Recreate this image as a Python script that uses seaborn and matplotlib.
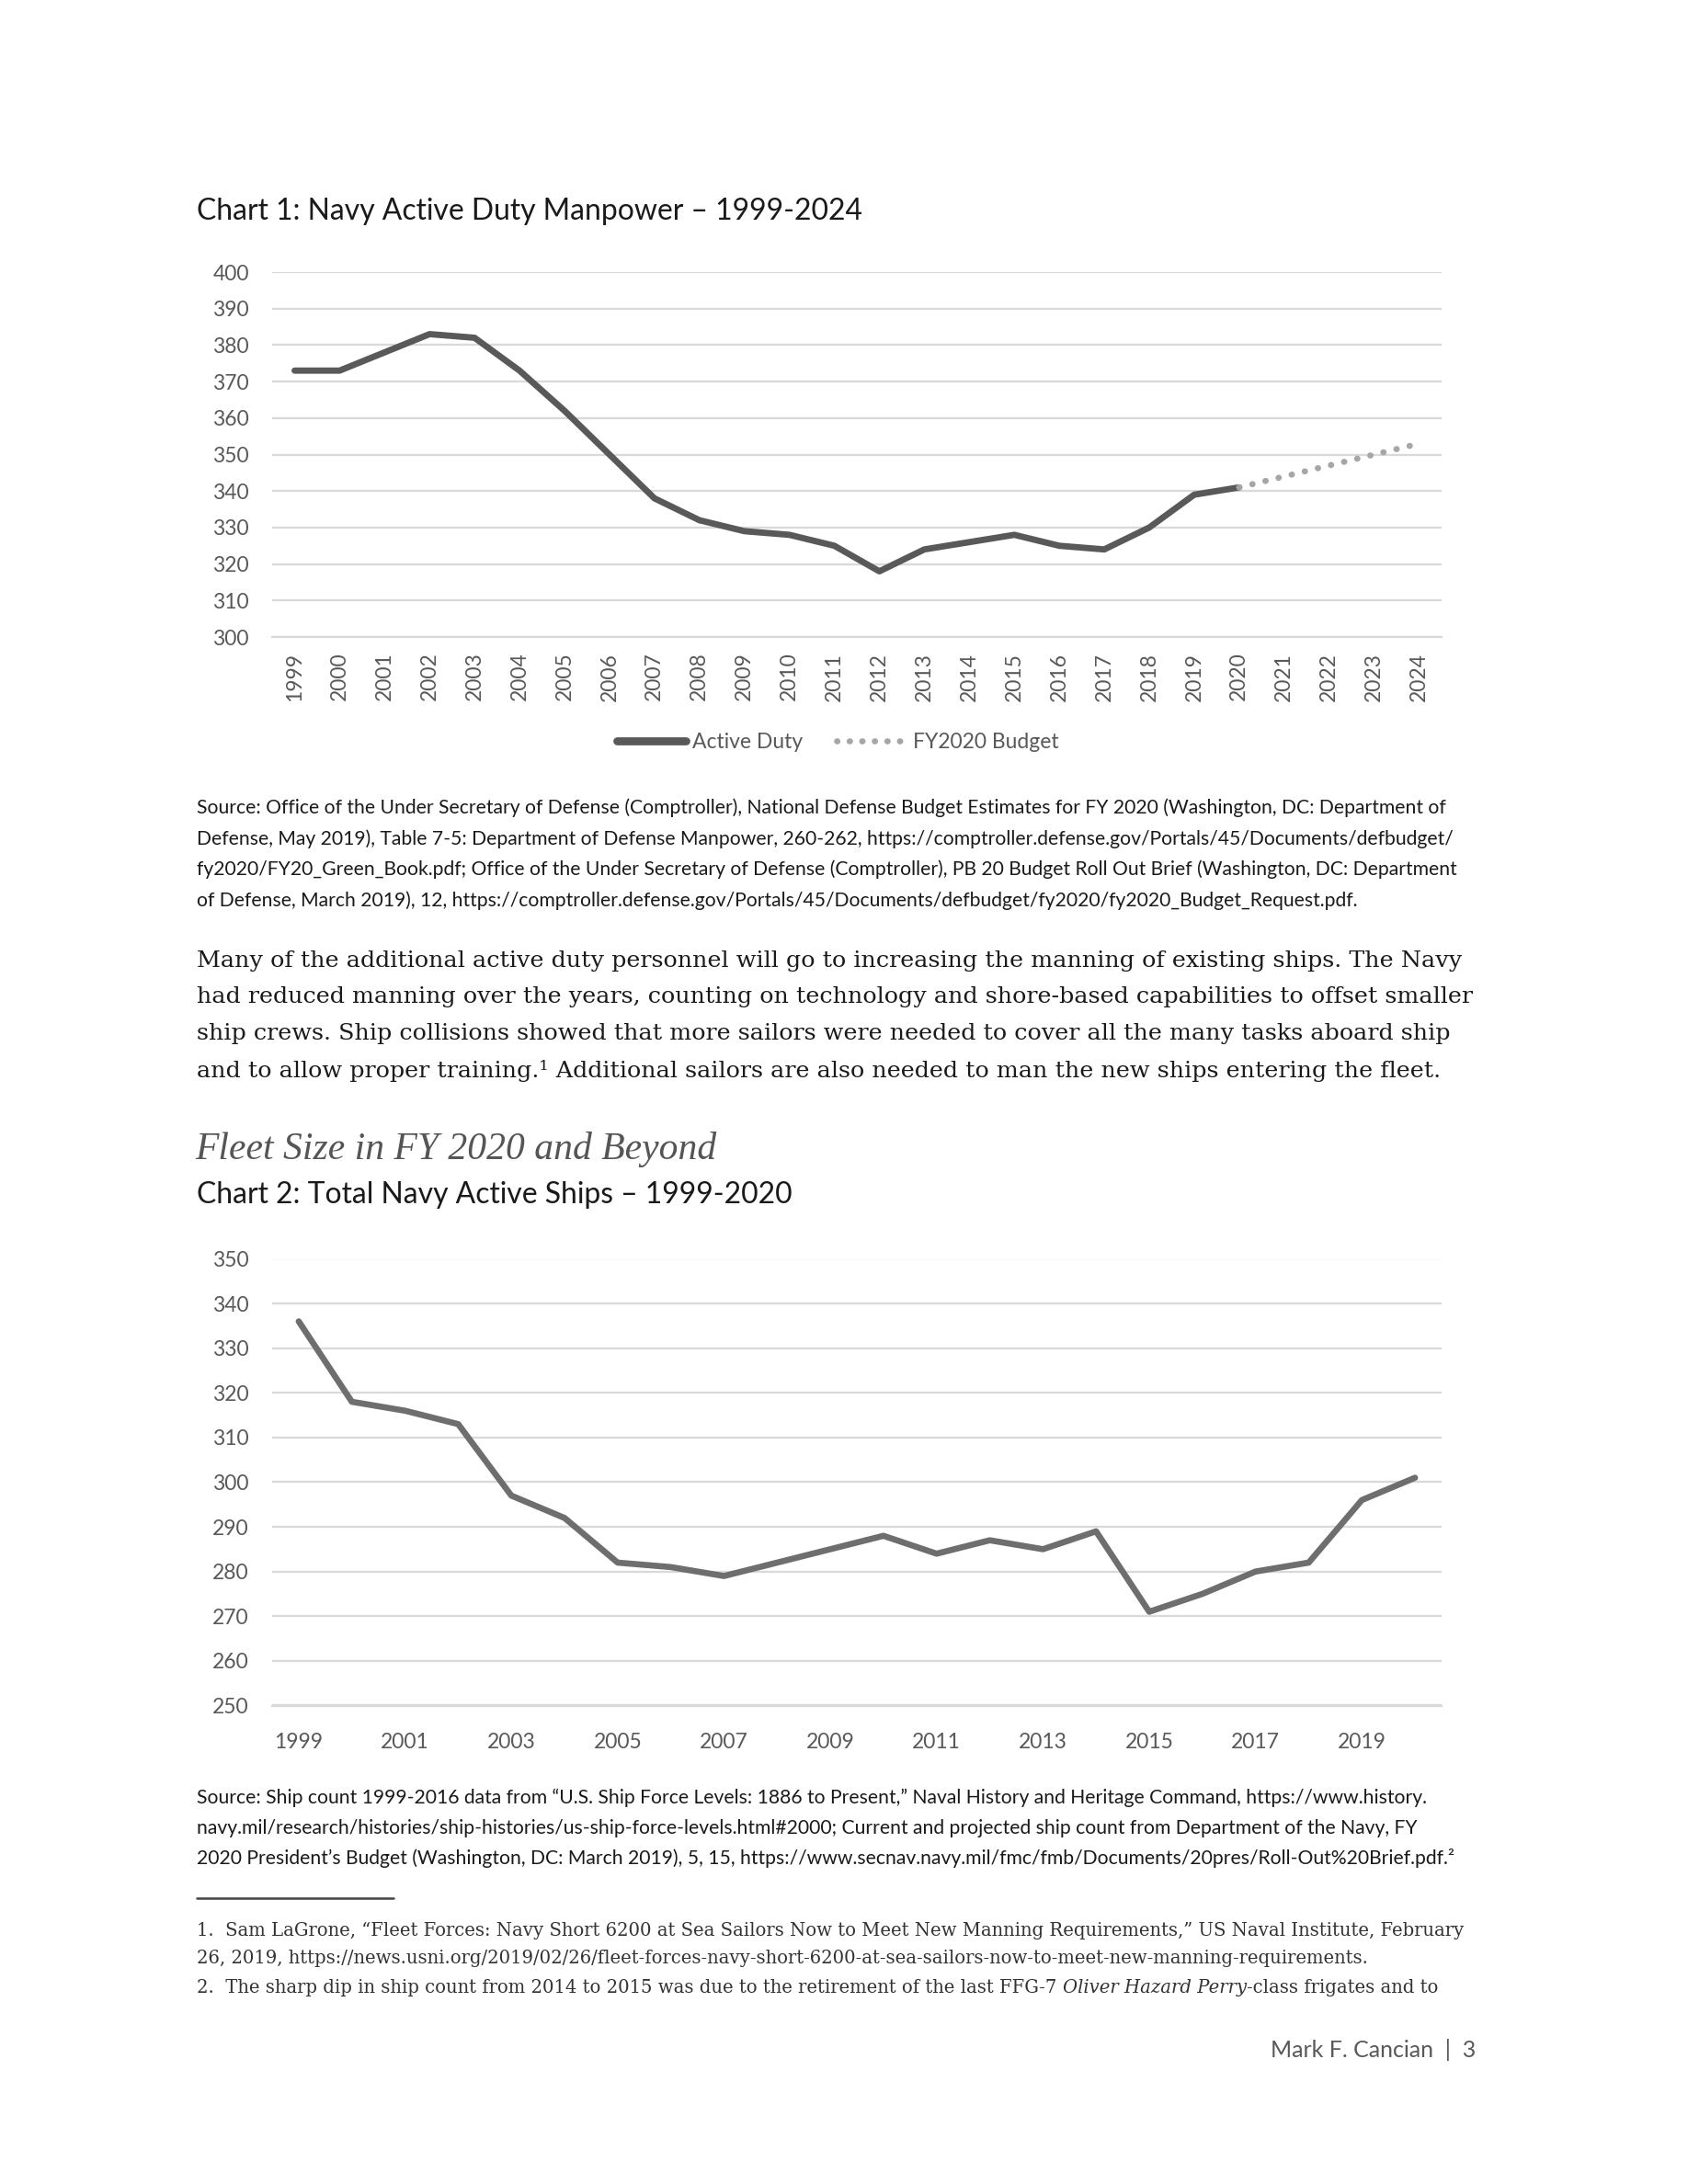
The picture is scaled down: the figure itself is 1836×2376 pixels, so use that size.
import matplotlib
matplotlib.use("Agg")
import matplotlib.pyplot as plt
from matplotlib.lines import Line2D
import seaborn as sns
import pandas as pd

# ---- data ----
years_1 = list(range(1999, 2021))
active_duty = [373, 373, 378, 383, 382, 373, 362, 350, 338, 332, 329,
               328, 325, 318, 324, 326, 328, 325, 324, 330, 339, 341]
budget_years = [2020, 2021, 2022, 2023, 2024]
budget = [341, 344, 347, 350, 353]
axis_years_1 = list(range(1999, 2025))
yticks_1 = list(range(300, 401, 10))

years_2 = list(range(1999, 2021))
ships = [336, 318, 316, 313, 297, 292, 282, 281, 279, 282, 285,
         288, 284, 287, 285, 289, 271, 275, 280, 282, 296, 301]
label_years_2 = list(range(1999, 2020, 2))
yticks_2 = list(range(250, 351, 10))

source_1 = [
    "Source: Office of the Under Secretary of Defense (Comptroller), National Defense Budget Estimates for FY 2020 (Washington, DC: Department of",
    "Defense, May 2019), Table 7-5: Department of Defense Manpower, 260-262, https://comptroller.defense.gov/Portals/45/Documents/defbudget/",
    "fy2020/FY20_Green_Book.pdf; Office of the Under Secretary of Defense (Comptroller), PB 20 Budget Roll Out Brief (Washington, DC: Department",
    "of Defense, March 2019), 12, https://comptroller.defense.gov/Portals/45/Documents/defbudget/fy2020/fy2020_Budget_Request.pdf.",
]
body = [
    "Many of the additional active duty personnel will go to increasing the manning of existing ships. The Navy",
    "had reduced manning over the years, counting on technology and shore-based capabilities to offset smaller",
    "ship crews. Ship collisions showed that more sailors were needed to cover all the many tasks aboard ship",
    "and to allow proper training.\u00b9 Additional sailors are also needed to man the new ships entering the fleet.",
]
source_2 = [
    "Source: Ship count 1999-2016 data from \u201cU.S. Ship Force Levels: 1886 to Present,\u201d Naval History and Heritage Command, https://www.history.",
    "navy.mil/research/histories/ship-histories/us-ship-force-levels.html#2000; Current and projected ship count from Department of the Navy, FY",
    "2020 President\u2019s Budget (Washington, DC: March 2019), 5, 15, https://www.secnav.navy.mil/fmc/fmb/Documents/20pres/Roll-Out%20Brief.pdf.\u00b2",
]
footnotes = [
    "1.  Sam LaGrone, \u201cFleet Forces: Navy Short 6200 at Sea Sailors Now to Meet New Manning Requirements,\u201d US Naval Institute, February",
    "26, 2019, https://news.usni.org/2019/02/26/fleet-forces-navy-short-6200-at-sea-sailors-now-to-meet-new-manning-requirements.",
]
footnote_3 = ["2.  The sharp dip in ship count from 2014 to 2015 was due to the retirement of the last FFG-7 ",
              "Oliver Hazard Perry", "-class frigates and to"]

df_active = pd.DataFrame({"Year": years_1, "Value": active_duty})
df_budget = pd.DataFrame({"Year": budget_years, "Value": budget})
df_ships = pd.DataFrame({"Year": years_2, "Value": ships})

DARK = "#595959"
LINE2 = "#6e6e6e"
DOT = "#a6a6a6"
GRID = "#d9d9d9"
TEXT = "#1a1a1a"
SERIF = "DejaVu Serif"

sns.set_style("white")
plt.rcParams["font.family"] = ["Lato", "DejaVu Sans"]

W, H = 1836, 2376
fig = plt.figure(figsize=(W / 150, H / 150), dpi=150)
fig.patch.set_facecolor("white")


def put(x, y, s, **kw):                                  # pixel coords, origin top-left
    kw.setdefault("va", "center")
    kw.setdefault("ha", "left")
    return fig.text(x / W, 1 - y / H, s, **kw)


def style_axis(ax, ymin, ymax, yticks):
    ax.set_ylim(ymin, ymax)
    ax.set_yticks(yticks)
    ax.yaxis.grid(True, color=GRID, lw=1.1)
    ax.xaxis.grid(False)
    ax.set_axisbelow(True)
    for side in ["top", "right", "left"]:
        ax.spines[side].set_visible(False)
    ax.spines["bottom"].set_color(GRID)
    ax.spines["bottom"].set_linewidth(1.1)
    ax.tick_params(axis="y", length=0, pad=12, labelsize=11, labelcolor=DARK)
    ax.tick_params(axis="x", which="major", length=0, labelsize=11, labelcolor=DARK)
    ax.tick_params(axis="x", which="minor", length=3.5, width=1.1, color=GRID)
    ax.set_xlabel("")
    ax.set_ylabel("")


# ---- Chart 1 ----
ax1 = fig.add_axes([296 / W, 1 - 693 / H, 1272 / W, 397 / H])
sns.lineplot(data=df_active, x="Year", y="Value", ax=ax1, color=DARK, lw=3.3,
             solid_capstyle="round")
sns.lineplot(data=df_budget, x="Year", y="Value", ax=ax1, color=DOT, lw=3.2,
             linestyle=(0, (0.05, 2.15)), dash_capstyle="round")
ax1.set_xlim(axis_years_1[0] - 0.5, axis_years_1[-1] + 0.5)
ax1.set_xticks(axis_years_1)
ax1.set_xticklabels([str(y) for y in axis_years_1], rotation=90)
ax1.set_xticks([y - 0.5 for y in axis_years_1] + [axis_years_1[-1] + 0.5], minor=True)
style_axis(ax1, 300, 400, yticks_1)
ax1.tick_params(axis="x", which="major", pad=8)

handles = [Line2D([], [], color=DARK, lw=4.2, solid_capstyle="round"),
           Line2D([], [], color=DOT, lw=3.2, linestyle=(0, (0.05, 2.0)), dash_capstyle="round")]
fig.legend(handles, ["Active Duty", "FY2020 Budget"], loc="center",
           bbox_to_anchor=(911 / W, 1 - 808 / H), ncol=2, frameon=False,
           fontsize=11, labelcolor=DARK, handlelength=3.3, handletextpad=0.3,
           columnspacing=1.6)

# ---- Chart 2 ----
ax2 = fig.add_axes([296 / W, 1 - 1855.5 / H, 1272 / W, 486 / H])
sns.lineplot(data=df_ships, x="Year", y="Value", ax=ax2, color=LINE2, lw=3.2,
             solid_capstyle="round")
ax2.set_xlim(years_2[0] - 0.5, years_2[-1] + 0.5)
ax2.set_xticks(label_years_2)
ax2.set_xticklabels([str(y) for y in label_years_2])
ax2.set_xticks([y - 0.5 for y in years_2] + [years_2[-1] + 0.5], minor=True)
style_axis(ax2, 250, 350, yticks_2)
ax2.tick_params(axis="x", which="major", pad=14)

# ---- page text ----
put(214, 230, "Chart 1: Navy Active Duty Manpower \u2013 1999-2024", fontsize=15.3, color=TEXT)
for i, line in enumerate(source_1):
    put(214, 879 + i * 33.5, line, fontsize=10.15, color=TEXT)
for i, line in enumerate(body):
    put(214, 1045 + i * 40, line, fontsize=12.2, color=TEXT, family=SERIF)
put(212, 1250, "Fleet Size in FY 2020 and Beyond", fontsize=20, color="#555555",
    family=["Liberation Serif", SERIF], style="italic")
put(214, 1300, "Chart 2: Total Navy Active Ships \u2013 1999-2020", fontsize=15.3, color=TEXT)
for i, line in enumerate(source_2):
    put(214, 1956 + i * 33, line, fontsize=10.15, color=TEXT)

fig.add_artist(Line2D([214 / W, 428 / W], [1 - 2065 / H, 1 - 2065 / H], color="#444444", lw=1.2))
for i, line in enumerate(footnotes):
    put(214, 2100 + i * 31, line, fontsize=9.4, color="#333333", family=SERIF)

renderer = fig.canvas.get_renderer()
x = 214
for j, piece in enumerate(footnote_3):
    t = put(x, 2162, piece, fontsize=9.4, color="#333333", family=SERIF,
            style="italic" if j == 1 else "normal")
    x += t.get_window_extent(renderer).width

put(1605, 2230, "Mark F. Cancian  |  3", fontsize=12, color=DARK, ha="right")

fig.savefig("out.png", dpi=150, facecolor="white")
